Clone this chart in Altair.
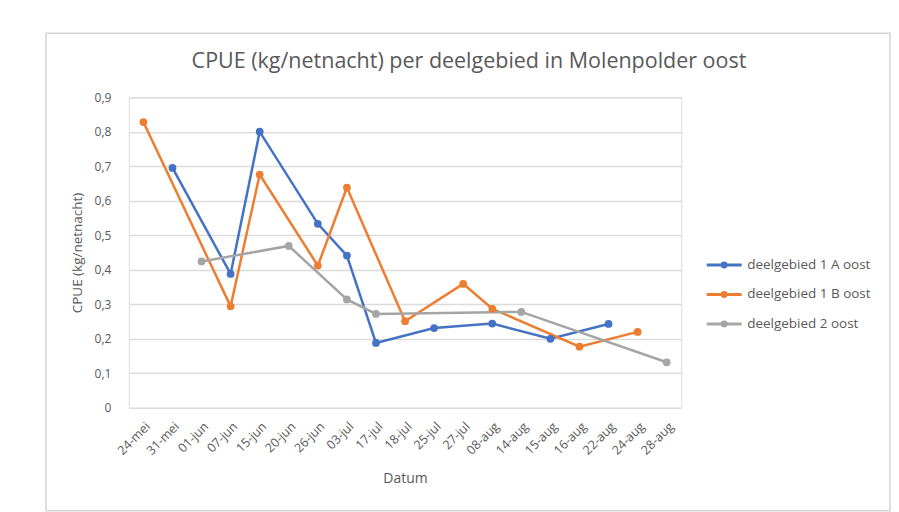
import altair as alt
import pandas as pd

dates = ["24-mei", "31-mei", "01-jun", "07-jun", "15-jun", "20-jun", "26-jun", "03-jul",
         "17-jul", "18-jul", "25-jul", "27-jul", "08-aug", "14-aug", "15-aug", "16-aug",
         "22-aug", "24-aug", "28-aug"]

series_names = ["deelgebied 1 A oost", "deelgebied 1 B oost", "deelgebied 2 oost"]
colors = ["#4472c4", "#ed7d31", "#a5a5a5"]

a_dates = ["31-mei", "07-jun", "15-jun", "26-jun", "03-jul", "17-jul", "25-jul", "08-aug", "15-aug", "22-aug"]
a_vals = [0.695, 0.388, 0.800, 0.533, 0.441, 0.188, 0.231, 0.244, 0.200, 0.243]

b_dates = ["24-mei", "07-jun", "15-jun", "26-jun", "03-jul", "18-jul", "27-jul", "08-aug", "16-aug", "24-aug"]
b_vals = [0.828, 0.294, 0.676, 0.412, 0.638, 0.251, 0.359, 0.287, 0.177, 0.220]

c_dates = ["01-jun", "20-jun", "03-jul", "17-jul", "14-aug", "28-aug"]
c_vals = [0.424, 0.469, 0.314, 0.272, 0.278, 0.132]

rows = []
for name, ds, vs in zip(series_names, [a_dates, b_dates, c_dates], [a_vals, b_vals, c_vals]):
    for d, v in zip(ds, vs):
        rows.append({"serie": name, "datum": d, "cpue": v, "idx": dates.index(d)})
df = pd.DataFrame(rows)

FONT = "Open Sans"
TXT = "#595959"

legend_path = "M-1,0H1M-0.11,0a0.11,0.11 0 1,0 0.22,0a0.11,0.11 0 1,0 -0.22,0"

base = alt.Chart(df).encode(
    x=alt.X("datum:N", sort=dates,
            scale=alt.Scale(type="point", domain=dates, padding=0.5),
            axis=alt.Axis(title="Datum", labelAngle=-45, ticks=False, domain=False,
                          labelFontSize=12.5, labelColor=TXT, labelPadding=12,
                          titleFontSize=14, titleColor=TXT, titleFontWeight="normal",
                          titlePadding=15, labelFont=FONT, titleFont=FONT, zindex=1)),
    y=alt.Y("cpue:Q", scale=alt.Scale(domain=[0, 0.9], nice=False),
            axis=alt.Axis(title="CPUE (kg/netnacht)", values=[0, 0.1, 0.2, 0.3, 0.4, 0.5, 0.6, 0.7, 0.8, 0.9],
                          labelExpr="datum.value == 0 ? '0' : replace(format(datum.value, '.1f'), '.', ',')",
                          ticks=False, domain=False, gridColor="#dcdcdc", gridWidth=1.5,
                          labelFontSize=12, labelColor=TXT, labelPadding=18,
                          titleFontSize=13.5, titleColor=TXT, titleFontWeight="normal",
                          titlePadding=10, labelFont=FONT, titleFont=FONT)),
    color=alt.Color("serie:N", scale=alt.Scale(domain=series_names, range=colors),
                    legend=alt.Legend(title=None, orient="none", legendX=577, legendY=149,
                                      symbolType=legend_path, symbolSize=1225,
                                      symbolStrokeWidth=3, labelFontSize=13.5,
                                      labelColor=TXT, labelFont=FONT, labelOffset=4,
                                      rowPadding=2.5)),
    order="idx:Q",
)

lines = base.mark_line(strokeWidth=2.5, point=alt.OverlayMarkDef(filled=True, size=60))

frame = alt.Chart(pd.DataFrame({"k": [0]})).mark_rect(
    fill="transparent", stroke="#d6d6d6", strokeWidth=1.5
).encode(x=alt.value(-83), x2=alt.value(762), y=alt.value(-64), y2=alt.value(414))

chart = alt.layer(frame, lines).properties(
    width=553, height=311,
    padding={"left": 37, "top": 24, "right": 0, "bottom": 0},
    title=alt.TitleParams("CPUE (kg/netnacht) per deelgebied in Molenpolder oost",
                          fontSize=21.5, font=FONT, color=TXT, fontWeight="normal",
                          dx=64, offset=-40),
).configure_view(stroke=None).configure(background="white")

chart.save("out.html", embed_options={"renderer": "svg", "actions": False})
